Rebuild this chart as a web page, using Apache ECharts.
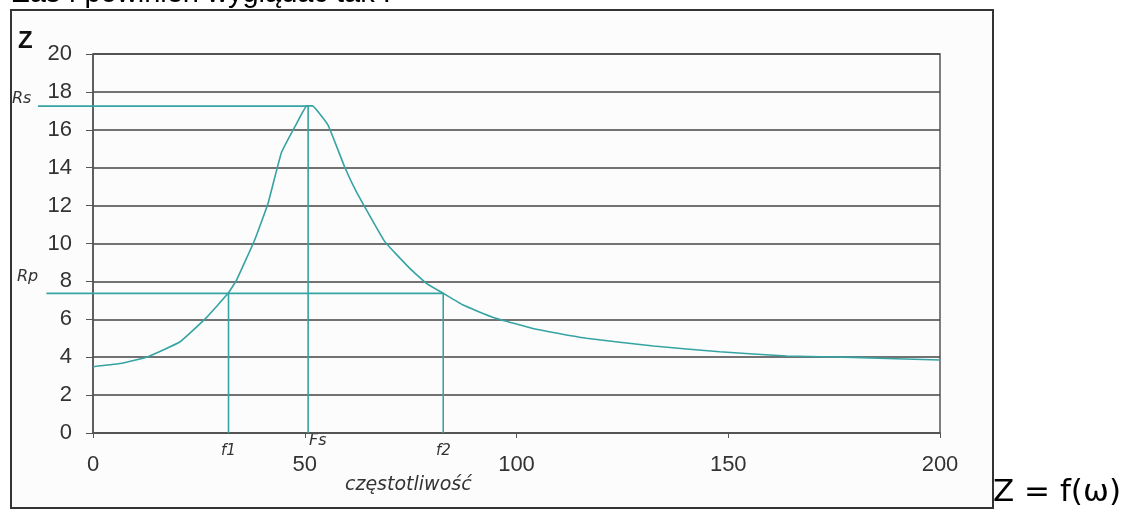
<!DOCTYPE html>
<html>
<head>
<meta charset="utf-8">
<script src="https://cdn.jsdelivr.net/npm/echarts@6/dist/echarts.min.js"></script>
<style>
    html, body { margin: 0; padding: 0; background: #fff; }
    #chart { width: 1127px; height: 518px; }
</style>
</head>
<body>
<div id="chart"></div>
<script>
// dane
var freq = [0, 6, 12.6, 20.5, 26.6, 31.9, 33.9, 38.2, 41.3, 44.5, 48, 50.5, 51.8, 55.5, 59.4, 62.2, 68.9, 74.8, 78.7, 82.5, 87.4, 94.5, 104.7, 116.5, 132.3, 148, 163.8, 179.5, 200];
var zVal = [3.5, 3.65, 4.0, 4.8, 6.05, 7.37, 8.07, 10.2, 12.1, 14.8, 16.3, 17.26, 17.26, 16.25, 14.05, 12.73, 10.1, 8.69, 7.9, 7.4, 6.75, 6.1, 5.47, 5.0, 4.59, 4.29, 4.06, 3.99, 3.85];
var xTicks = [0, 50, 100, 150, 200];
var yTicks = [0, 2, 4, 6, 8, 10, 12, 14, 16, 18, 20];
// punkty charakterystyczne
var f1 = 32, Fs = 50.8, f2 = 82.7;
var Rs = 17.25, Rp = 7.37;
// początek linii Rs / Rp (wystają w lewo za oś)
var rsStart = -13, rpStart = -11;

(function () {
    var myChart = echarts.init(document.getElementById('chart'));
    var curve = freq.map(function (f, i) { return [f, zVal[i]]; });
    var teal = '#36a3a3';
    var labelFont = 'Liberation Sans, Arial, sans-serif';
    var annFont = 'DejaVu Sans, sans-serif';

    var option = {
        animation: false,
        grid: {
            left: 93, right: 187, top: 54, bottom: 85,
            show: true,
            borderColor: '#555',
            borderWidth: 1.5
        },
        xAxis: {
            type: 'value',
            min: 0, max: 200, interval: 50,
            axisLine: { lineStyle: { color: '#555', width: 1.5 } },
            axisTick: { show: true, length: 5, lineStyle: { color: '#555' } },
            splitLine: { show: false },
            axisLabel: {
                margin: 21, color: '#333', fontSize: 22, fontFamily: labelFont,
                formatter: function (v) { return xTicks.indexOf(v) >= 0 ? v : ''; }
            }
        },
        yAxis: {
            type: 'value',
            min: 0, max: 20, interval: 2,
            axisLine: { show: true, lineStyle: { color: '#555', width: 1.5 } },
            axisTick: { show: true, length: 7, lineStyle: { color: '#555' } },
            splitLine: { lineStyle: { color: '#444', width: 1.6 } },
            axisLabel: {
                margin: 21, color: '#333', fontSize: 22, fontFamily: labelFont,
                formatter: function (v) { return yTicks.indexOf(v) >= 0 ? v : ''; }
            }
        },
        series: [
            {
                // linie pomocnicze Rs / Fs
                type: 'line',
                data: [[0, Rs], [Fs, Rs], [Fs, 0]],
                symbol: 'none',
                lineStyle: { color: teal, width: 1.6 },
                z: 3
            },
            {
                // linie pomocnicze Rp / f2
                type: 'line',
                data: [[0, Rp], [f2, Rp], [f2, 0]],
                symbol: 'none',
                lineStyle: { color: teal, width: 1.6 },
                z: 3
            },
            {
                type: 'line',
                data: [[f1, Rp], [f1, 0]],
                symbol: 'none',
                lineStyle: { color: teal, width: 1.6 },
                z: 3
            },
            {
                name: 'Z',
                type: 'line',
                data: curve,
                symbol: 'none',
                smooth: 0.1,
                lineStyle: { color: teal, width: 1.6 },
                z: 4
            }
        ],
        graphic: [
            {
                type: 'rect', z: -10, silent: true,
                shape: { x: 11, y: 10, width: 982, height: 498 },
                style: { fill: '#fcfcfc', stroke: '#333', lineWidth: 2 }
            },
            {
                type: 'text', left: 12, top: -21,
                style: { text: 'Zaś f powinien wyglądać tak :', fill: '#000', font: '29px Liberation Sans, Arial, sans-serif' }
            },
            {
                type: 'text', left: 18, top: 29,
                style: { text: 'Z', fill: '#111', font: 'bold 24px Liberation Sans, Arial, sans-serif' }
            },
            {
                type: 'text', left: 12, top: 91,
                style: { text: 'Rs', fill: '#333', font: 'italic 16px ' + annFont }
            },
            {
                type: 'text', left: 17, top: 269,
                style: { text: 'Rp', fill: '#333', font: 'italic 16px ' + annFont }
            },
            {
                type: 'text', left: 221, top: 444,
                style: { text: 'f1', fill: '#333', font: 'italic 15px ' + annFont }
            },
            {
                type: 'text', left: 309, top: 433,
                style: { text: 'Fs', fill: '#333', font: 'italic 16px ' + annFont }
            },
            {
                type: 'text', left: 436, top: 444,
                style: { text: 'f2', fill: '#333', font: 'italic 15px ' + annFont }
            },
            {
                type: 'text', left: 345, top: 476,
                style: { text: 'częstotliwość', fill: '#333', font: 'italic 19px ' + annFont }
            },
            {
                type: 'text', left: 993, top: 477,
                style: { text: 'Z = f(ω)', fill: '#000', font: '31px ' + annFont }
            }
        ]
    };
    myChart.setOption(option);

    // przedłużenie linii Rs / Rp w lewo, za oś Y
    function ext(x0, y) {
        var a = myChart.convertToPixel({ gridIndex: 0 }, [x0, y]);
        var b = myChart.convertToPixel({ gridIndex: 0 }, [0, y]);
        return {
            type: 'line', silent: true, z: 5,
            shape: { x1: a[0], y1: a[1], x2: b[0], y2: b[1] },
            style: { stroke: teal, lineWidth: 1.6 }
        };
    }
    myChart.setOption({
        graphic: option.graphic.concat([ext(rsStart, Rs), ext(rpStart, Rp)])
    });

    window.addEventListener('resize', function () {
        myChart.resize();
    });
})();
</script>
</body>
</html>
